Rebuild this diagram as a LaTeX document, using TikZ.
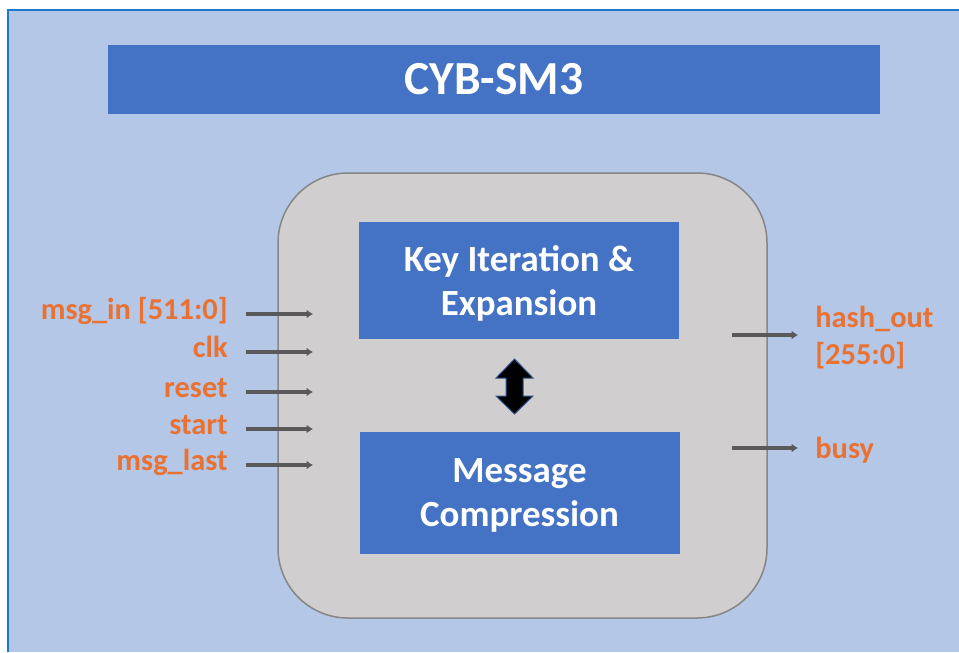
\documentclass[tikz,border=0pt]{standalone}
\usepackage{fontspec}
\setmainfont{Carlito}
\usetikzlibrary{arrows.meta, positioning}
\newlength{\px}
\setlength{\px}{0.02cm}
\definecolor{bgcolor}{HTML}{B4C7E7}
\definecolor{framecolor}{HTML}{1F78C8}
\definecolor{blockcolor}{HTML}{4472C4}
\definecolor{corecolor}{HTML}{D0CECE}
\definecolor{corelinecolor}{HTML}{868686}
\definecolor{portcolor}{HTML}{E97132}
\definecolor{wirecolor}{HTML}{595959}
\definecolor{swapline}{HTML}{2F528F}
\tikzset{title/.style={fill=blockcolor, text=white, font=\fontsize{27}{32}\selectfont\bfseries, minimum width=772\px, minimum height=69\px}}
\tikzset{block/.style={fill=blockcolor, text=white, font=\fontsize{21}{25.5}\selectfont\bfseries, align=center, text depth=0pt, minimum width=320\px, minimum height=117\px}}
\tikzset{core/.style={fill=corecolor, draw=corelinecolor, line width=1.5\px, rounded corners=70\px, minimum width=489\px, minimum height=445\px}}
\tikzset{portlabel/.style={text=portcolor, font=\fontsize{17.3}{21}\selectfont\bfseries, inner sep=0pt}}
\tikzset{inport/.style={portlabel, anchor=east, text height=0.7em, text depth=0.12em}}
\tikzset{outport/.style={portlabel, anchor=west, align=left}}
\tikzset{wire/.style={draw=wirecolor, line width=4\px, -{Latex[length=3.6pt,width=5pt]}}}

\begin{document}
\begin{tikzpicture}[x=\px, y=-\px]
	\useasboundingbox (0,0) rectangle (959,652);
	
	%%% BACKGROUND %%%
	\fill[bgcolor] (8,11) rectangle (959,652);
	\draw[framecolor, line width=2\px] (959,10.5) -| (7.5,652);
	
	%%% NODES %%%
	
	% TITLE
	\node[title] at (494,79.5) (title) {CYB-SM3};
	
	% CORE
	\node[core] at (522.5,395.5) (core) {};
	\node[block] at (519,280.5) (keyexp) {Key Iteration \&\\Expansion};
	\node[block, minimum height=122\px] at (519.5,492.5) (msgcomp) {Message\\Compression};
	
	% INPUTS
	\node[inport] at (228,314) (msgin) {msg\_in [511:0]};
	\node[inport] at (228,352) (clk) {clk};
	\node[inport] at (228,392) (reset) {reset};
	\node[inport] at (228,429) (start) {start};
	\node[inport] at (228,465) (msglast) {msg\_last};
	\coordinate (msgin-end) at (313,314);
	\coordinate (clk-end) at (313,352);
	\coordinate (reset-end) at (313,392);
	\coordinate (start-end) at (313,429);
	\coordinate (msglast-end) at (313,465);
	
	% OUTPUTS
	\node[outport] at (815,338) (hashout) {hash\_out\\{[255:0]}};
	\node[outport] at (815,450) (busy) {busy};
	\coordinate (hashout-start) at (732,335);
	\coordinate (busy-start) at (732,448);
	
	%%% ARROWS %%%
	
	% INPUTS
	\draw[wire, shorten <=18\px] (msgin) -- (msgin-end);
	\draw[wire, shorten <=18\px] (clk) -- (clk-end);
	\draw[wire, shorten <=18\px] (reset) -- (reset-end);
	\draw[wire, shorten <=18\px] (start) -- (start-end);
	\draw[wire, shorten <=18\px] (msglast) -- (msglast-end);
	
	% OUTPUTS
	\draw[wire, shorten >=17\px] (hashout-start) -- (hashout-start -| hashout.west);
	\draw[wire, shorten >=17\px] (busy-start) -- (busy-start -| busy.west);
	
	% KEY <-> COMPRESSION
	\filldraw[fill=black, draw=swapline, line width=1\px]
		(514.5,359) -- (533,378) -- (523,378) -- (523,396) -- (533,396) -- (514.5,414)
		-- (496,396) -- (506,396) -- (506,378) -- (496,378) -- cycle;
	
\end{tikzpicture}
\end{document}
